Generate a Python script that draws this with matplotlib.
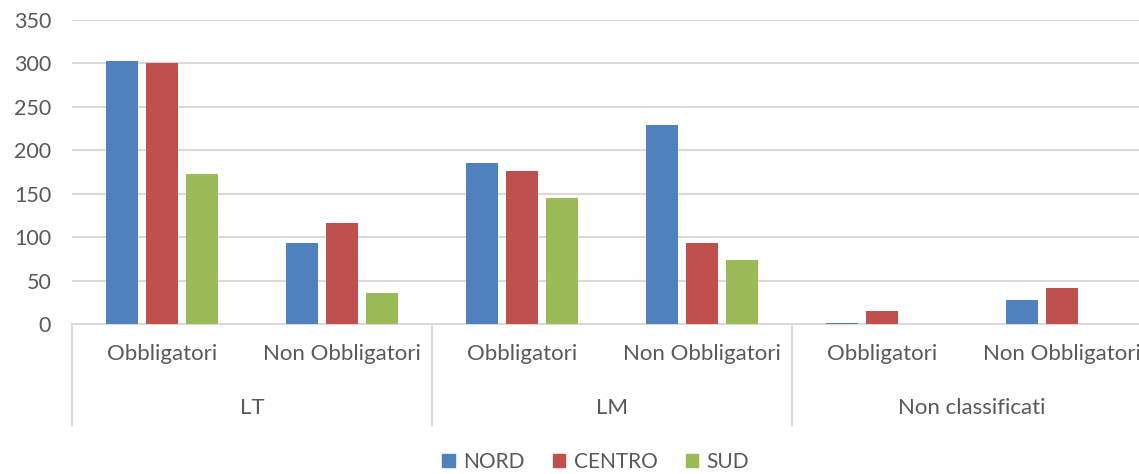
import matplotlib.pyplot as plt
import matplotlib.transforms as mtransforms
from matplotlib.patches import Patch

groups = ["LT", "LM", "Non classificati"]
subcats = ["Obbligatori", "Non Obbligatori", "Obbligatori", "Non Obbligatori", "Obbligatori", "Non Obbligatori"]
series = ["NORD", "CENTRO", "SUD"]
nord = [303, 93, 185, 229, 1, 28]
centro = [300, 116, 176, 93, 15, 42]
sud = [173, 36, 145, 74, 0, 0]
colors = ["#4F81BD", "#C0504D", "#9BBB59"]

plt.rcParams['font.family'] = ['Lato', 'DejaVu Sans']
W, H = 1139, 474
fig = plt.figure(figsize=(W / 100, H / 100), dpi=100)
ax = fig.add_axes([72 / W, 150 / H, 1080 / W, 304 / H])

x = list(range(len(subcats)))
width = 0.178
offs = [-0.222, 0, 0.222]
for vals, off, c in zip([nord, centro, sud], offs, colors):
    ax.bar([xi + off for xi in x], vals, width=width, color=c, zorder=3)

ax.set_xlim(-0.5, len(subcats) - 0.5)
ax.set_ylim(0, 350)
ax.set_yticks(range(0, 351, 50))
ax.yaxis.grid(True, color="#D9D9D9", linewidth=1.5, zorder=0)
ax.tick_params(axis='y', length=0, pad=15, labelsize=15.5, labelcolor="#595959")
ax.set_xticks([])
for s in ["top", "right", "left"]:
    ax.spines[s].set_visible(False)
ax.spines["bottom"].set_color("#D9D9D9")
ax.spines["bottom"].set_linewidth(1.5)

trans = mtransforms.blended_transform_factory(ax.transData, ax.transAxes)
for xi, lab in zip(x, subcats):
    ax.text(xi, -0.10, lab, transform=trans, ha="center", va="center",
            fontsize=16, color="#595959")
for gi, g in enumerate(groups):
    ax.text(gi * 2 + 0.5, -0.275, g, transform=trans, ha="center", va="center",
            fontsize=16, color="#595959")
for b in [-0.5, 1.5, 3.5, 5.5]:
    ax.plot([b, b], [0, -0.332], transform=trans, color="#D9D9D9",
            linewidth=1.5, clip_on=False)

handles = [Patch(color=c, label=s) for c, s in zip(colors, series)]
fig.legend(handles=handles, loc="center", bbox_to_anchor=(0.523, 0.026), ncol=3,
           frameon=False, fontsize=15, handlelength=0.6, handleheight=0.6,
           handletextpad=0.4, columnspacing=1.35, labelcolor="#595959")

fig.savefig("out.png", dpi=100)
